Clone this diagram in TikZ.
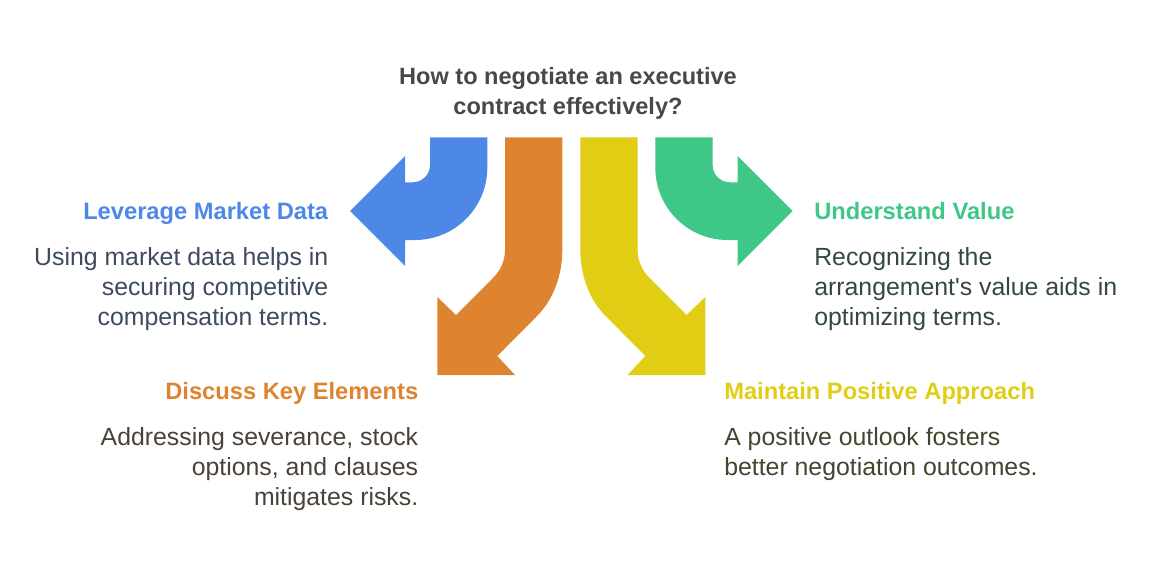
\documentclass[tikz,border=0pt]{standalone}
\usepackage{fontspec}
\setmainfont{Liberation Sans}
\definecolor{bluearr}{HTML}{4E88E7}
\definecolor{orangearr}{HTML}{DE8431}
\definecolor{yellowarr}{HTML}{E0CD14}
\definecolor{greenarr}{HTML}{3EC786}
\definecolor{titlecol}{HTML}{484848}
\definecolor{bluetxt}{HTML}{3E4A5E}
\definecolor{orangetxt}{HTML}{4A4238}
\definecolor{yellowtxt}{HTML}{46432F}
\definecolor{greentxt}{HTML}{35483F}
\tikzset{
	title/.style={font=\fontsize{16.75}{21.3}\selectfont\bfseries, text=titlecol, align=center},
	head/.style={font=\fontsize{16.85}{21.3}\selectfont\bfseries, inner sep=0pt},
	body/.style={font=\fontsize{17.66}{21.33}\selectfont, inner sep=0pt}
}
\begin{document}
\begin{tikzpicture}[x=0.025cm,y=-0.025cm]
	\useasboundingbox (0,0) rectangle (1158,573);
	%Frecce
	\fill[bluearr] (430,137.3) -- (430,165) arc[start angle=0, end angle=90, radius=17.3] -- (405,182.3) -- (405,156) -- (350,211) -- (405,266) -- (405,240) -- (415,240) arc[start angle=90, end angle=0, radius=72.3] -- (487.3,137.3) -- cycle;
	\fill[greenarr] (712.6,137.3) -- (712.6,165) arc[start angle=180, end angle=90, radius=17.3] -- (737.6,182.3) -- (737.6,156) -- (792.6,211) -- (737.6,266) -- (737.6,240) -- (727.6,240) arc[start angle=90, end angle=180, radius=72.3] -- (655.3,137.3) -- cycle;
	\fill[orangearr] (505,137.3) -- (505,250) .. controls (505,260) and (501,270) .. (493,278) -- (456,315) -- (437.3,297) -- (437.3,375) -- (515,375) -- (497.3,356) -- (537,316) .. controls (553,300) and (562.3,276) .. (562.3,250) -- (562.3,137.3) -- cycle;
	\fill[yellowarr] (637.6,137.3) -- (637.6,250) .. controls (637.6,260) and (641.6,270) .. (649.6,278) -- (686.6,315) -- (705.3,297) -- (705.3,375) -- (627.6,375) -- (645.3,356) -- (605.6,316) .. controls (589.6,300) and (580.3,276) .. (580.3,250) -- (580.3,137.3) -- cycle;
	%Testi
	\node[title] (question) at (568,93.5) {How to negotiate an executive\\contract effectively?};
	\node[head, text=bluearr, anchor=base east] (markethead) at (328.5,219.5) {Leverage Market Data};
	\node[body, text=bluetxt, align=right, anchor=north east] (marketbody) at (328.5,247) {Using market data helps in\\securing competitive\\compensation terms.};
	\node[head, text=orangearr, anchor=base east] (keyhead) at (418.5,399.5) {Discuss Key Elements};
	\node[body, text=orangetxt, align=right, anchor=north east] (keybody) at (418.5,427) {Addressing severance, stock\\options, and clauses\\mitigates risks.};
	\node[head, text=greenarr, anchor=base west] (valuehead) at (814,219.5) {Understand Value};
	\node[body, text=greentxt, align=left, anchor=north west] (valuebody) at (814,247) {Recognizing the\\arrangement\textquotesingle s value aids in\\optimizing terms.};
	\node[head, text=yellowarr, anchor=base west] (positivehead) at (724,399.5) {Maintain Positive Approach};
	\node[body, text=yellowtxt, align=left, anchor=north west] (positivebody) at (724,427) {A positive outlook fosters\\better negotiation outcomes.};
\end{tikzpicture}
\end{document}
